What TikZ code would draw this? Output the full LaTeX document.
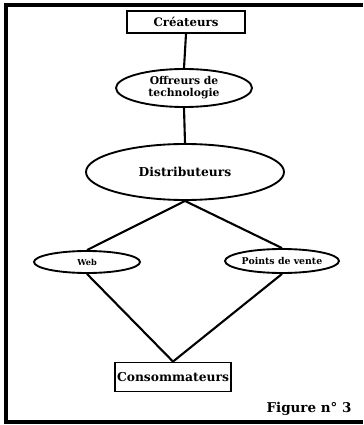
\documentclass[tikz,border=0pt]{standalone}
\usepackage{fontspec}
\setmainfont{DejaVu Serif}
\usepackage{xcolor}
\usepackage{tikz}
\usetikzlibrary{shapes.geometric}
\tikzset{
    boite/.style={draw, line width=1.6pt, rectangle, inner sep=0pt},
    bulle/.style={draw, line width=1.6pt, ellipse, inner sep=0pt, align=center},
    lien/.style={line width=1.8pt}
}
\newcommand{\gras}[1]{\bfseries\fontsize{#1}{#1}\selectfont}

\begin{document}
\begin{tikzpicture}[x=0.03cm, y=-0.03cm]
        \useasboundingbox (0,0) rectangle (363,425);
        % cadre
        \draw[line width=2.6pt] (363,5) -- (6,5) -- (6,422) -- (363,422);

        % noeuds
        \node[boite, minimum width=3.54cm, minimum height=0.66cm, font=\gras{10}] (crea) at (186,22) {Créateurs};
        \node[bulle, minimum width=4.08cm, minimum height=1.14cm, font=\gras{9.2}] (offreurs) at (184,88) {Offreurs de\\[1pt]technologie};
        \node[bulle, minimum width=5.94cm, minimum height=1.68cm, font=\gras{10.5}] (distrib) at (185,172) {Distributeurs};
        \node[bulle, minimum width=3.18cm, minimum height=0.66cm, font=\gras{7}] (web) at (87,262) {Web};
        \node[bulle, minimum width=3.36cm, minimum height=0.72cm, font=\gras{8}] (pdv) at (282,261) {Points de vente};
        \node[boite, minimum width=3.48cm, minimum height=0.87cm, font=\gras{10.5}] (conso) at (173,377) {Consommateurs};
        \node[font=\gras{11.5}] (fig) at (309,409) {Figure n° 3};

        % liens
        \draw[lien] (crea.south) -- (offreurs.north);
        \draw[lien] (offreurs.south) -- (distrib.north);
        \draw[lien] (distrib.south) -- (web.north);
        \draw[lien] (distrib.south) -- (pdv.north);
        \draw[lien] (web.south) -- (conso.north);
        \draw[lien] (pdv.south) -- (conso.north);
    \end{tikzpicture}
\end{document}
